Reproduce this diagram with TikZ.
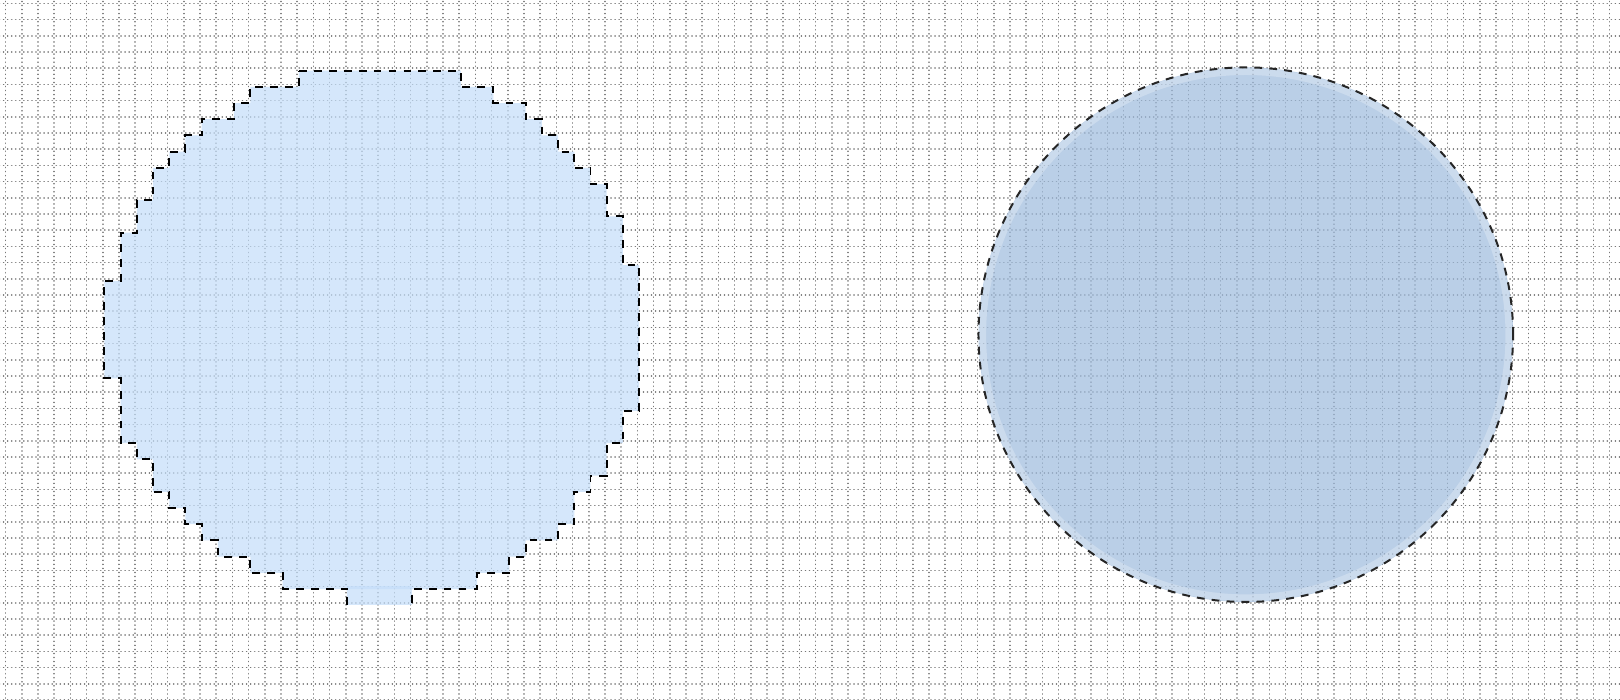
\documentclass[tikz,border=0pt]{standalone}
\usetikzlibrary{calc}

\definecolor{gridgray}{RGB}{120,120,120}
\definecolor{rasterblue}{RGB}{196,222,250}
\definecolor{circleblue}{RGB}{158,187,221}

\begin{document}
\begin{tikzpicture}[x=0.4cm, y=0.4cm,
    gridline/.style={draw=gridgray, line width=1.1pt, line cap=round, dash pattern=on 0.05pt off 2.795pt, dash phase=1.475pt},
    rasterfill/.style={fill=rasterblue, fill opacity=0.7},
    circlefill/.style={fill=circleblue, fill opacity=0.7},
    outline/.style={draw=black, line width=1.4pt, dash pattern=on 5.5pt off 5pt},
    halo/.style={draw=white, line width=5pt, opacity=0.25}
]

% Canvas
\useasboundingbox (-0.35,0) rectangle (99.65,43.21);
\clip (-0.35,0) rectangle (99.65,43.21);
\fill[white] (-0.35,0) rectangle (99.65,43.21);

% Pixel grid
\foreach \i in {0,...,99} {
    \draw[gridline] (\i,-1) -- (\i,45);
}
\foreach \j in {0,...,43} {
    \draw[gridline] (-1,\j) -- (100,\j);
}

% Left: rasterised disc
\begin{scope}[shift={(0.1,-0.15)}]
\path[rasterfill, draw=none] (21,6) rectangle (25,7.2);
\path[rasterfill] (18,39) -- (28,39) -- (28,38) -- (30,38) -- (30,37) -- (32,37)
    -- (32,36) -- (33,36) -- (33,35) -- (34,35) -- (34,34) -- (35,34) -- (35,33)
    -- (36,33) -- (36,32) -- (37,32) -- (37,30) -- (38,30) -- (38,27) -- (39,27)
    -- (39,18) -- (38,18) -- (38,16) -- (37,16) -- (37,14) -- (36,14) -- (36,13)
    -- (35,13) -- (35,11) -- (34,11) -- (34,10) -- (32,10) -- (32,9) -- (31,9)
    -- (31,8) -- (29,8) -- (29,7) -- (21,7) -- (17,7) -- (17,8) -- (15,8)
    -- (15,9) -- (13,9) -- (13,10) -- (12,10) -- (12,11) -- (11,11) -- (11,12)
    -- (10,12) -- (10,13) -- (9,13) -- (9,15) -- (8,15) -- (8,16) -- (7,16)
    -- (7,20) -- (6,20) -- (6,26) -- (7,26) -- (7,29) -- (8,29) -- (8,31)
    -- (9,31) -- (9,33) -- (10,33) -- (10,34) -- (11,34) -- (11,35) -- (12,35)
    -- (12,36) -- (14,36) -- (14,37) -- (15,37) -- (15,38) -- (18,38) -- cycle;
\draw[outline] (18,39) -- (28,39) -- (28,38) -- (30,38) -- (30,37) -- (32,37)
    -- (32,36) -- (33,36) -- (33,35) -- (34,35) -- (34,34) -- (35,34) -- (35,33)
    -- (36,33) -- (36,32) -- (37,32) -- (37,30) -- (38,30) -- (38,27) -- (39,27)
    -- (39,18) -- (38,18) -- (38,16) -- (37,16) -- (37,14) -- (36,14) -- (36,13)
    -- (35,13) -- (35,11) -- (34,11) -- (34,10) -- (32,10) -- (32,9) -- (31,9)
    -- (31,8) -- (29,8) -- (29,7) -- (25,7) -- (25,6);
\draw[outline] (21,6) -- (21,7) -- (17,7) -- (17,8) -- (15,8)
    -- (15,9) -- (13,9) -- (13,10) -- (12,10) -- (12,11) -- (11,11) -- (11,12)
    -- (10,12) -- (10,13) -- (9,13) -- (9,15) -- (8,15) -- (8,16) -- (7,16)
    -- (7,20) -- (6,20) -- (6,26) -- (7,26) -- (7,29) -- (8,29) -- (8,31)
    -- (9,31) -- (9,33) -- (10,33) -- (10,34) -- (11,34) -- (11,35) -- (12,35)
    -- (12,36) -- (14,36) -- (14,37) -- (15,37) -- (15,38) -- (18,38) -- (18,39);
\end{scope}

% Right: ideal circle
\coordinate (ideal) at (76.55,22.55);
\path[circlefill] (ideal) circle (16.5);
\draw[halo] (ideal) circle (16.25);
\draw[outline, draw=black!85] (ideal) circle (16.5);

\end{tikzpicture}
\end{document}
